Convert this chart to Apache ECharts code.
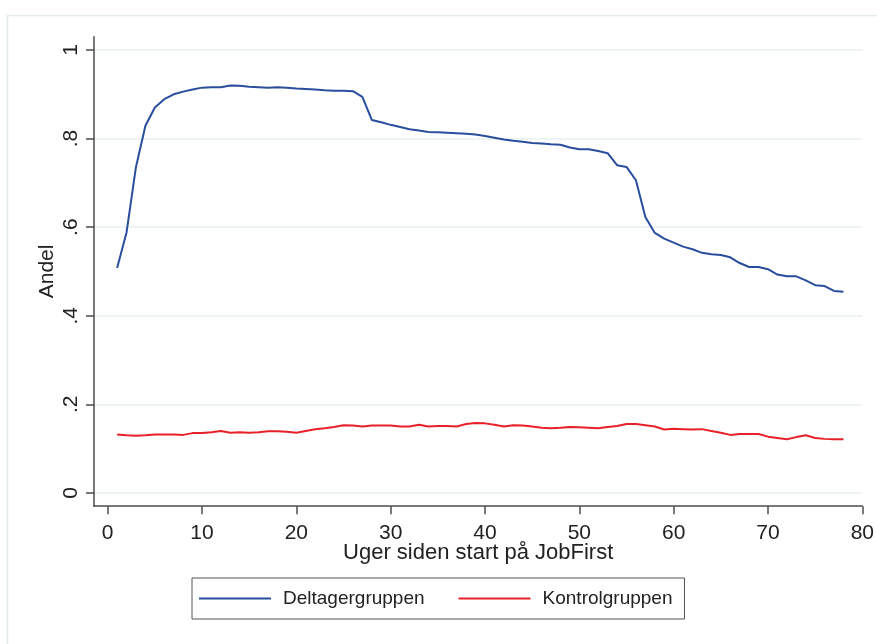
<!DOCTYPE html>
<html>
<head>
<meta charset="utf-8">
<script src="https://cdn.jsdelivr.net/npm/echarts@6/dist/echarts.min.js"></script>
<style>
html,body{margin:0;padding:0;background:#fff;}
#chart{width:877px;height:644px;}
</style>
</head>
<body>
<div id="chart"></div>
<script>
var weeks = [];
for (var i = 1; i <= 78; i++) weeks.push(i);

var deltager = [
  0.508, 0.588, 0.736, 0.829, 0.870, 0.889, 0.900, 0.906, 0.911, 0.915,
  0.916, 0.916, 0.920, 0.919, 0.917, 0.916, 0.915, 0.916, 0.915, 0.913,
  0.912, 0.911, 0.909, 0.908, 0.908, 0.907, 0.894, 0.842, 0.837, 0.831,
  0.826, 0.821, 0.818, 0.815, 0.814, 0.813, 0.812, 0.811, 0.809, 0.806,
  0.802, 0.798, 0.795, 0.793, 0.790, 0.789, 0.787, 0.786, 0.780, 0.776,
  0.776, 0.772, 0.767, 0.740, 0.736, 0.706, 0.623, 0.587, 0.574, 0.565,
  0.556, 0.550, 0.542, 0.539, 0.537, 0.532, 0.519, 0.510, 0.510, 0.505,
  0.493, 0.489, 0.489, 0.480, 0.469, 0.467, 0.456, 0.454
];

var kontrol = [
  0.132, 0.130, 0.129, 0.130, 0.132, 0.132, 0.132, 0.131, 0.135, 0.135,
  0.137, 0.140, 0.136, 0.137, 0.136, 0.137, 0.139, 0.139, 0.138, 0.136,
  0.140, 0.1435, 0.146, 0.149, 0.153, 0.152, 0.150, 0.152, 0.152, 0.152,
  0.150, 0.150, 0.154, 0.150, 0.151, 0.151, 0.150, 0.1555, 0.158, 0.157,
  0.154, 0.150, 0.153, 0.152, 0.150, 0.147, 0.146, 0.147, 0.149, 0.148,
  0.147, 0.146, 0.149, 0.151, 0.1555, 0.1555, 0.153, 0.150, 0.143, 0.145,
  0.144, 0.143, 0.144, 0.140, 0.136, 0.131, 0.133, 0.133, 0.133, 0.127,
  0.124, 0.121, 0.126, 0.130, 0.124, 0.122, 0.121, 0.121
];

var xTicks = [0, 10, 20, 30, 40, 50, 60, 70, 80];
var yTicks = [0, 0.2, 0.4, 0.6, 0.8, 1];
var yTickLabels = ['0', '.2', '.4', '.6', '.8', '1'];

var seriesNames = ['Deltagergruppen', 'Kontrolgruppen'];
var colors = ['#2a4e9e', '#e8202a'];

function pairs(xs, ys) {
  return xs.map(function (x, i) { return [x, ys[i]]; });
}

var FONT = 'Liberation Sans, Arial, sans-serif';
var axisColor = '#4d4d4d';

var chart = echarts.init(document.getElementById('chart'), null, { renderer: 'canvas' });
chart.setOption({
  backgroundColor: '#ffffff',
  animation: false,
  graphic: [{
    type: 'rect',
    left: 5, top: 13,
    shape: { width: 900, height: 700 },
    style: { fill: 'none', stroke: '#e3ebeb', lineWidth: 1.5 },
    silent: true, z: -10
  }],
  grid: { left: 94, top: 36.7, right: 13.3, bottom: 137.8, containLabel: false },
  xAxis: {
    type: 'value',
    min: -1.45, max: 80,
    name: 'Uger siden start på JobFirst',
    nameLocation: 'middle',
    nameGap: 36,
    nameMoveOverlap: false,
    nameTextStyle: { fontFamily: FONT, fontSize: 22, color: '#222' },
    axisLine: { show: true, onZero: false, lineStyle: { color: axisColor, width: 1.5 } },
    axisTick: { show: true, length: 8, customValues: xTicks, lineStyle: { color: axisColor, width: 1.5 } },
    axisLabel: { customValues: xTicks, margin: 17, fontFamily: FONT, fontSize: 21, color: '#222',
      showMinLabel: true, showMaxLabel: true },
    splitLine: { show: false }
  },
  yAxis: {
    type: 'value',
    min: -0.03, max: 1.03,
    name: 'Andel',
    nameLocation: 'middle',
    nameRotate: 90,
    nameGap: 36,
    nameMoveOverlap: false,
    nameTextStyle: { fontFamily: FONT, fontSize: 21, color: '#222' },
    axisLine: { show: true, onZero: false, lineStyle: { color: axisColor, width: 1.5 } },
    axisTick: { show: true, length: 8, customValues: yTicks, lineStyle: { color: axisColor, width: 1.5 } },
    axisLabel: {
      customValues: yTicks, rotate: 90, margin: 12,
      fontFamily: FONT, fontSize: 21, color: '#222',
      formatter: function (v) {
        for (var i = 0; i < yTicks.length; i++) if (Math.abs(yTicks[i] - v) < 1e-9) return yTickLabels[i];
        return '';
      }
    },
    splitLine: { show: true, lineStyle: { color: '#e8efef', width: 1.5 } }
  },
  legend: {
    show: true,
    left: 192, top: 578,
    orient: 'horizontal',
    borderColor: '#555',
    borderWidth: 1,
    borderRadius: 0,
    padding: [11, 12, 11, 7],
    itemWidth: 72,
    itemHeight: 14,
    itemGap: 34,
    textStyle: { fontFamily: FONT, fontSize: 19, color: '#222', padding: [0, 0, 0, 7] },
    data: seriesNames.map(function (n) { return { name: n, icon: 'path://M0,0 L72,0 L72,2 L0,2 Z' }; })
  },
  series: [
    {
      name: seriesNames[0], type: 'line', data: pairs(weeks, deltager),
      showSymbol: false, symbol: 'none', lineStyle: { color: colors[0], width: 2 },
      itemStyle: { color: colors[0] }
    },
    {
      name: seriesNames[1], type: 'line', data: pairs(weeks, kontrol),
      showSymbol: false, symbol: 'none', lineStyle: { color: colors[1], width: 2 },
      itemStyle: { color: colors[1] }
    }
  ]
});
</script>
</body>
</html>
